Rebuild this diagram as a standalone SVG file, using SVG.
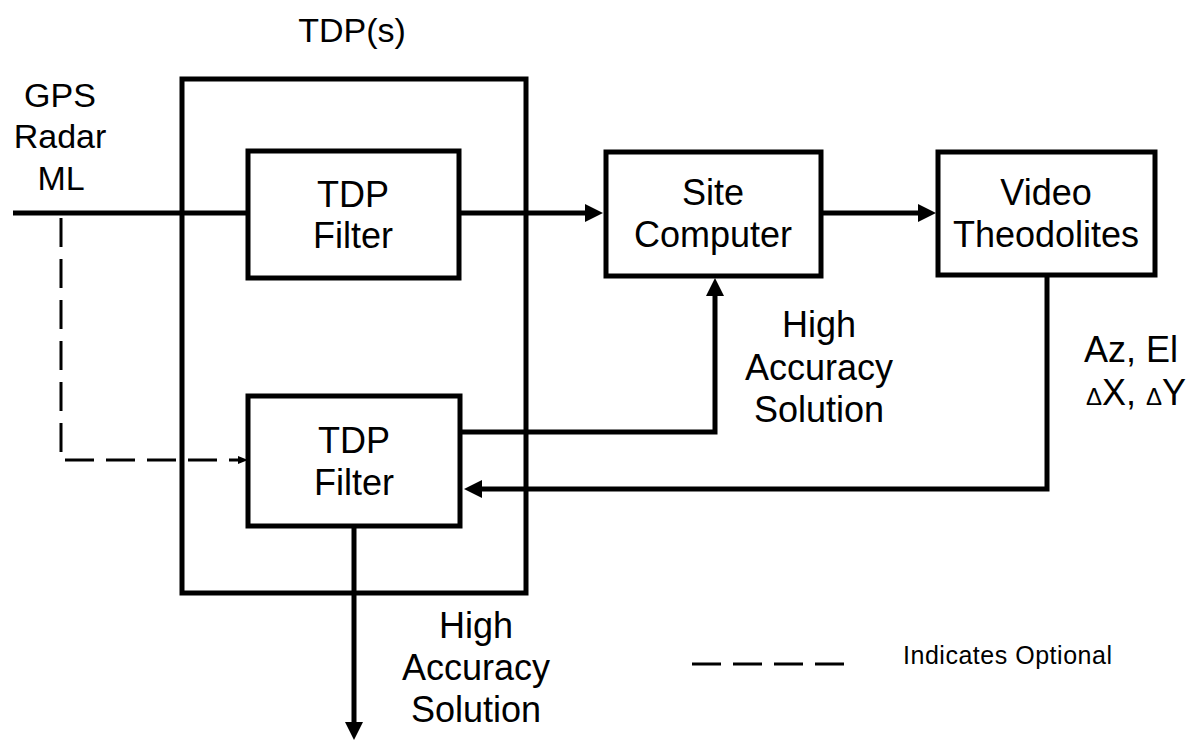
<svg xmlns="http://www.w3.org/2000/svg" width="1194" height="743" viewBox="0 0 1194 743">
<style>
.t{font-family:"Liberation Sans",Arial,Helvetica,sans-serif;font-size:36px;fill:#000;text-anchor:middle}
.s{font-size:34px}
.box{fill:none;stroke:#000;stroke-width:5}
.ln{fill:none;stroke:#000;stroke-width:5}
.dash{fill:none;stroke:#000;stroke-width:3;stroke-dasharray:29 12}
</style>
<defs>
<marker id="ah" markerUnits="userSpaceOnUse" markerWidth="18" markerHeight="18" viewBox="0 0 18 18" refX="8" refY="9" orient="auto">
<path d="M0,0 L18,9 L0,18 z" fill="#000"/>
</marker>
<marker id="ahs" markerUnits="userSpaceOnUse" markerWidth="10" markerHeight="10" viewBox="0 0 10 10" refX="4" refY="5" orient="auto">
<path d="M0,1 L10,5 L0,9 z" fill="#000"/>
</marker>
</defs>
<rect width="1194" height="743" fill="#fff"/>

<g id="tdps">
<rect class="box" x="182" y="79" width="344" height="514"/>
<text class="t s" x="352" y="42">TDP(s)</text>
</g>

<g id="inputs">
<text class="t s" x="60" y="107">GPS</text>
<text class="t s" x="60" y="148">Radar</text>
<text class="t s" x="61" y="190">ML</text>
</g>

<g id="filter1">
<rect class="box" x="248" y="151" width="211" height="127"/>
<text class="t" x="353" y="207">TDP</text>
<text class="t" x="353" y="248">Filter</text>
</g>

<g id="filter2">
<rect class="box" x="248" y="396" width="212" height="130"/>
<text class="t" x="354" y="453">TDP</text>
<text class="t" x="354" y="495">Filter</text>
</g>

<g id="site">
<rect class="box" x="606" y="152" width="215" height="124"/>
<text class="t" x="713" y="205">Site</text>
<text class="t" x="713" y="247">Computer</text>
</g>

<g id="video">
<rect class="box" x="938" y="152" width="217" height="123"/>
<text class="t" x="1046" y="205">Video</text>
<text class="t" x="1046" y="247">Theodolites</text>
</g>

<g id="connectors">
<path class="ln" d="M13,213 H248"/>
<path class="ln" d="M459,213 H593" marker-end="url(#ah)"/>
<path class="ln" d="M821,213 H926" marker-end="url(#ah)"/>
<path class="ln" d="M460,432 H715 V288" marker-end="url(#ah)"/>
<path class="ln" d="M1047,275 V489 H474" marker-end="url(#ah)"/>
<path class="ln" d="M354,526 V730" marker-end="url(#ah)"/>
<path class="dash" d="M61,218 V460 H242" marker-end="url(#ahs)"/>
</g>

<g id="labels">
<text class="t" x="819" y="337">High</text>
<text class="t" x="819" y="380">Accuracy</text>
<text class="t" x="819" y="422">Solution</text>
<text class="t" x="476" y="638">High</text>
<text class="t" x="476" y="680">Accuracy</text>
<text class="t" x="476" y="722">Solution</text>
<text class="t" x="1131" y="362">Az, El</text>
<text class="t" x="1136" y="405"><tspan font-size="24">Δ</tspan>X, <tspan font-size="24">Δ</tspan>Y</text>
</g>

<g id="legend">
<path d="M692,664 H847" fill="none" stroke="#000" stroke-width="3" stroke-dasharray="29 12"/>
<text x="903" y="664" font-family="Liberation Sans,Arial,sans-serif" font-size="25" textLength="209" lengthAdjust="spacing">Indicates Optional</text>
</g>
</svg>
